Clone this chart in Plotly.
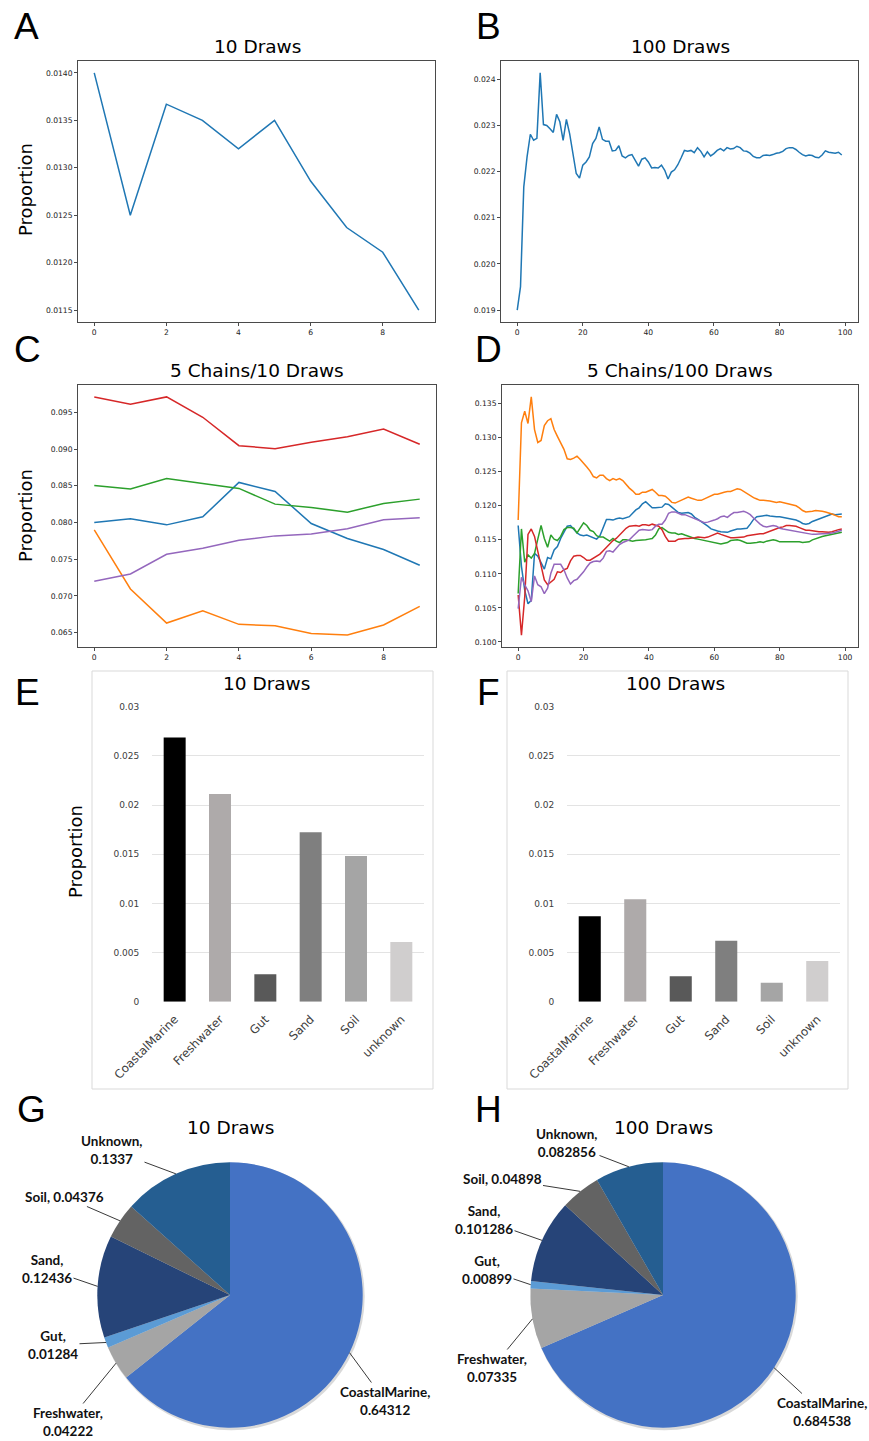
import math
import plotly.graph_objects as go

W, H = 869, 1441

# ---------------- data ----------------
x10 = list(range(10))
x100 = list(range(100))

a_draws10 = [0.0140, 0.0125, 0.01367, 0.0135, 0.01320, 0.0135, 0.01286, 0.01237, 0.01211, 0.0115]

b_draws100 = [
    0.01900, 0.01951, 0.02167, 0.02232, 0.02281, 0.02268, 0.02272, 0.02414, 0.02302, 0.02300,
    0.02293, 0.02285, 0.02324, 0.02308, 0.02268, 0.02313, 0.02282, 0.02239, 0.02196, 0.02186,
    0.02214, 0.02221, 0.02232, 0.02261, 0.02272, 0.02297, 0.02270, 0.02266, 0.02266, 0.02245,
    0.02246, 0.02256, 0.02234, 0.02230, 0.02235, 0.02237, 0.02225, 0.02212, 0.02227, 0.02230,
    0.02221, 0.02208, 0.02209, 0.02208, 0.02214, 0.02203, 0.02184, 0.02199, 0.02204, 0.02215,
    0.02230, 0.02246, 0.02244, 0.02246, 0.02241, 0.02252, 0.02244, 0.02232, 0.02243, 0.02234,
    0.02239, 0.02246, 0.02250, 0.02245, 0.02252, 0.02249, 0.02250, 0.02255, 0.02252, 0.02245,
    0.02244, 0.02240, 0.02233, 0.02230, 0.02230, 0.02235, 0.02236, 0.02235, 0.02237, 0.02240,
    0.02241, 0.02244, 0.02250, 0.02252, 0.02252, 0.02248, 0.02242, 0.02237, 0.02234, 0.02236,
    0.02235, 0.02231, 0.02230, 0.02236, 0.02245, 0.02242, 0.02241, 0.02240, 0.02242, 0.02236,
]

c_blue = [0.0800, 0.0805, 0.07968, 0.08077, 0.08545, 0.08423, 0.07986, 0.07782, 0.07632, 0.07418]
c_orange = [0.0790, 0.07095, 0.06632, 0.0680, 0.06614, 0.06595, 0.06491, 0.06468, 0.06605, 0.06859]
c_green = [0.08505, 0.08455, 0.0860, 0.08527, 0.08464, 0.0825, 0.08205, 0.08141, 0.08259, 0.08318]
c_red = [0.09709, 0.09609, 0.09709, 0.09432, 0.09045, 0.09005, 0.09091, 0.09168, 0.09273, 0.09064]
c_purple = [0.0720, 0.0730, 0.07568, 0.0765, 0.07759, 0.07818, 0.07845, 0.07914, 0.08036, 0.08064]

d_blue = [
    0.1171, 0.1111, 0.1076, 0.1056, 0.1061, 0.1130, 0.1126, 0.1116, 0.1107, 0.1124,
    0.1122, 0.1135, 0.1140, 0.1152, 0.1162, 0.1170, 0.1171, 0.1165, 0.1160, 0.1157,
    0.1156, 0.1157, 0.1155, 0.1153, 0.1151, 0.1156, 0.1167, 0.1180, 0.1180, 0.1179,
    0.1181, 0.1182, 0.1181, 0.1182, 0.1184, 0.1189, 0.1194, 0.1197, 0.1203, 0.1206,
    0.1202, 0.1197, 0.1197, 0.1198, 0.1198, 0.1203, 0.1202, 0.1198, 0.1194, 0.1190,
    0.1189, 0.1190, 0.1190, 0.1188, 0.1183, 0.1180, 0.1177, 0.1173, 0.1170, 0.1166,
    0.1164, 0.1163, 0.1162, 0.1161, 0.1161, 0.1163, 0.1165, 0.1166, 0.1166, 0.1166,
    0.1167, 0.1173, 0.1180, 0.1184, 0.1185, 0.1185, 0.1186, 0.1185, 0.1184, 0.1184,
    0.1184, 0.1183, 0.1182, 0.1182, 0.1181, 0.1179, 0.1177, 0.1174, 0.1173, 0.1174,
    0.1177, 0.1179, 0.1181, 0.1182, 0.1184, 0.1186, 0.1188, 0.1187, 0.1187, 0.1188,
]
d_orange = [
    0.1179, 0.1322, 0.1339, 0.1321, 0.1360, 0.1312, 0.1293, 0.1296, 0.1318, 0.1325,
    0.1328, 0.1312, 0.1302, 0.1292, 0.1283, 0.1269, 0.1268, 0.1270, 0.1273, 0.1268,
    0.1263, 0.1257, 0.1251, 0.1243, 0.1241, 0.1245, 0.1245, 0.1240, 0.1237, 0.1240,
    0.1238, 0.1240, 0.1237, 0.1231, 0.1226, 0.1222, 0.1217, 0.1217, 0.1220, 0.1220,
    0.1222, 0.1224, 0.1220, 0.1215, 0.1215, 0.1214, 0.1210, 0.1205, 0.1204, 0.1206,
    0.1209, 0.1210, 0.1213, 0.1211, 0.1209, 0.1208, 0.1208, 0.1210, 0.1213, 0.1215,
    0.1217, 0.1217, 0.1219, 0.1220, 0.1221, 0.1221, 0.1223, 0.1225, 0.1224, 0.1221,
    0.1217, 0.1215, 0.1212, 0.1210, 0.1208, 0.1208, 0.1208, 0.1207, 0.1206, 0.1205,
    0.1206, 0.1205, 0.1204, 0.1203, 0.1202, 0.1200, 0.1197, 0.1193, 0.1191, 0.1191,
    0.1192, 0.1193, 0.1193, 0.1192, 0.1191, 0.1190, 0.1188, 0.1186, 0.1184, 0.1184,
]
d_green = [
    0.1071, 0.1166, 0.1117, 0.1128, 0.1123, 0.1130, 0.1151, 0.1171, 0.1152, 0.1139,
    0.1157, 0.1151, 0.1149, 0.1155, 0.1165, 0.1168, 0.1168, 0.1167, 0.1160, 0.1168,
    0.1175, 0.1171, 0.1164, 0.1162, 0.1156, 0.1154, 0.1154, 0.1151, 0.1148, 0.1152,
    0.1148, 0.1146, 0.1150, 0.1150, 0.1149, 0.1148, 0.1149, 0.1149, 0.1150, 0.1150,
    0.1151, 0.1152, 0.1157, 0.1166, 0.1168, 0.1165, 0.1161, 0.1160, 0.1160, 0.1158,
    0.1159, 0.1157, 0.1155, 0.1154, 0.1152, 0.1151, 0.1150, 0.1150, 0.1149, 0.1148,
    0.1146, 0.1145, 0.1144, 0.1145, 0.1146, 0.1149, 0.1150, 0.1150, 0.1149, 0.1147,
    0.1145, 0.1145, 0.1145, 0.1146, 0.1147, 0.1146, 0.1148, 0.1149, 0.1150, 0.1149,
    0.1147, 0.1147, 0.1147, 0.1147, 0.1148, 0.1148, 0.1147, 0.1146, 0.1146, 0.1147,
    0.1150, 0.1152, 0.1153, 0.1155, 0.1156, 0.1157, 0.1158, 0.1159, 0.1160, 0.1161,
]
d_red = [
    0.1069, 0.1010, 0.1066, 0.1158, 0.1166, 0.1155, 0.1133, 0.1111, 0.1091, 0.1084,
    0.1088, 0.1092, 0.1103, 0.1102, 0.1106, 0.1108, 0.1119, 0.1126, 0.1127, 0.1127,
    0.1124, 0.1120, 0.1120, 0.1123, 0.1126, 0.1129, 0.1134, 0.1139, 0.1144, 0.1149,
    0.1152, 0.1157, 0.1162, 0.1167, 0.1170, 0.1171, 0.1171, 0.1170, 0.1172, 0.1172,
    0.1171, 0.1173, 0.1171, 0.1170, 0.1165, 0.1155, 0.1148, 0.1148, 0.1148, 0.1151,
    0.1152, 0.1152, 0.1152, 0.1152, 0.1153, 0.1154, 0.1153, 0.1153, 0.1154, 0.1156,
    0.1159, 0.1160, 0.1158, 0.1156, 0.1154, 0.1153, 0.1153, 0.1153, 0.1153, 0.1154,
    0.1156, 0.1157, 0.1158, 0.1159, 0.1159, 0.1159, 0.1161, 0.1162, 0.1164, 0.1166,
    0.1168, 0.1169, 0.1171, 0.1171, 0.1171, 0.1170, 0.1168, 0.1166, 0.1164, 0.1164,
    0.1163, 0.1163, 0.1162, 0.1162, 0.1161, 0.1161, 0.1162, 0.1164, 0.1165, 0.1166,
]
d_purple = [
    0.1049, 0.1095, 0.1084, 0.1075, 0.1059, 0.1097, 0.1084, 0.1081, 0.1071, 0.1079,
    0.1101, 0.1114, 0.1114, 0.1114, 0.1106, 0.1094, 0.1085, 0.1090, 0.1092, 0.1097,
    0.1103, 0.1110, 0.1116, 0.1118, 0.1119, 0.1118, 0.1123, 0.1133, 0.1134, 0.1132,
    0.1138, 0.1143, 0.1146, 0.1148, 0.1150, 0.1155, 0.1160, 0.1164, 0.1165, 0.1164,
    0.1164, 0.1165, 0.1170, 0.1173, 0.1173, 0.1179, 0.1189, 0.1191, 0.1191, 0.1189,
    0.1187, 0.1187, 0.1185, 0.1183, 0.1180, 0.1178, 0.1177, 0.1175, 0.1176, 0.1177,
    0.1179, 0.1181, 0.1184, 0.1185, 0.1183, 0.1187, 0.1190, 0.1190, 0.1191, 0.1192,
    0.1190, 0.1187, 0.1182, 0.1177, 0.1173, 0.1170, 0.1169, 0.1170, 0.1171, 0.1170,
    0.1167, 0.1166, 0.1165, 0.1165, 0.1164, 0.1162, 0.1161, 0.1160, 0.1159, 0.1158,
    0.1158, 0.1158, 0.1159, 0.1159, 0.1159, 0.1159, 0.1160, 0.1161, 0.1162, 0.1164,
]

bar_categories = ["CoastalMarine", "Freshwater", "Gut", "Sand", "Soil", "unknown"]
bar_10 = [0.02688, 0.02112, 0.00278, 0.01722, 0.01481, 0.00607]
bar_100 = [0.00869, 0.01042, 0.00260, 0.00619, 0.00193, 0.00413]
bar_colors = ["#000000", "#AEAAAA", "#595959", "#7F7F7F", "#A5A5A5", "#D0CECE"]

pie_labels = ["CoastalMarine", "Freshwater", "Gut", "Sand", "Soil", "Unknown"]
pie_10 = [0.64312, 0.04222, 0.01284, 0.12436, 0.04376, 0.1337]
pie_100 = [0.684538, 0.07335, 0.00899, 0.101286, 0.04898, 0.082856]
pie_10_text = ["0.64312", "0.04222", "0.01284", "0.12436", "0.04376", "0.1337"]
pie_100_text = ["0.684538", "0.07335", "0.00899", "0.101286", "0.04898", "0.082856"]
pie_colors = ["#4472C4", "#A5A5A5", "#5B9BD5", "#264478", "#636363", "#255E91"]

C0, C1, C2, C3, C4 = "#1f77b4", "#ff7f0e", "#2ca02c", "#d62728", "#9467bd"

# ---------------- helpers ----------------
def PX(x):
    return x / W


def PY(y):
    return 1 - y / H


def mpl_range(series_list):
    lo = min(min(s) for s in series_list)
    hi = max(max(s) for s in series_list)
    m = (hi - lo) * 0.05
    return [lo - m, hi + m]


MPL_FONT = "DejaVu Sans"
SPINE = "#4a4a4a"


def mpl_axes(domx, domy, anchor, xr, xt, yr, yt, yfmt):
    xa = dict(domain=domx, anchor=anchor[1], range=xr, tickvals=xt, showline=True, mirror=True,
              linecolor=SPINE, linewidth=1, ticks="outside", ticklen=3, tickcolor=SPINE,
              tickfont=dict(family=MPL_FONT, size=7.6, color="#222"), showgrid=False, zeroline=False,
              automargin=False)
    ya = dict(domain=domy, anchor=anchor[0], range=yr, tickvals=yt, tickformat=yfmt, showline=True,
              mirror=True, linecolor=SPINE, linewidth=1, ticks="outside", ticklen=3, tickcolor=SPINE,
              tickfont=dict(family=MPL_FONT, size=7.6, color="#222"), showgrid=False, zeroline=False,
              automargin=False)
    return xa, ya


fig = go.Figure()

# ---- A
fig.add_trace(go.Scatter(x=x10, y=a_draws10, mode="lines", line=dict(color=C0, width=1.5),
                         xaxis="x", yaxis="y", showlegend=False))
# ---- B
fig.add_trace(go.Scatter(x=x100, y=b_draws100, mode="lines", line=dict(color=C0, width=1.5),
                         xaxis="x2", yaxis="y2", showlegend=False))
# ---- C
for s, c in [(c_blue, C0), (c_orange, C1), (c_green, C2), (c_red, C3), (c_purple, C4)]:
    fig.add_trace(go.Scatter(x=x10, y=s, mode="lines", line=dict(color=c, width=1.5),
                             xaxis="x3", yaxis="y3", showlegend=False))
# ---- D
for s, c in [(d_blue, C0), (d_orange, C1), (d_green, C2), (d_red, C3), (d_purple, C4)]:
    fig.add_trace(go.Scatter(x=x100, y=s, mode="lines", line=dict(color=c, width=1.5),
                             xaxis="x4", yaxis="y4", showlegend=False))
# ---- E, F bars
fig.add_trace(go.Bar(x=bar_categories, y=bar_10, marker=dict(color=bar_colors, line=dict(width=0)),
                     xaxis="x5", yaxis="y5", showlegend=False))
fig.add_trace(go.Bar(x=bar_categories, y=bar_100, marker=dict(color=bar_colors, line=dict(width=0)),
                     xaxis="x6", yaxis="y6", showlegend=False))

# ---- G, H pies
R = 132.7
pie_centers = [(230, 1295), (663, 1295)]
for vals, (cx, cy) in zip([pie_10, pie_100], pie_centers):
    fig.add_trace(go.Pie(values=vals, labels=pie_labels, sort=False, direction="clockwise", rotation=0,
                         marker=dict(colors=pie_colors, line=dict(width=0)), textinfo="none",
                         domain=dict(x=[PX(cx - R), PX(cx + R)], y=[PY(cy + R), PY(cy - R)]),
                         automargin=False, showlegend=False))

rA = mpl_range([a_draws10])
rB = mpl_range([b_draws100])
rC = mpl_range([c_blue, c_orange, c_green, c_red, c_purple])
rD = mpl_range([d_blue, d_orange, d_green, d_red, d_purple])

xa1, ya1 = mpl_axes([PX(78), PX(435)], [PY(322), PY(61)], ("x", "y"), [-0.45, 9.45], [0, 2, 4, 6, 8],
                    rA, [0.0115, 0.0120, 0.0125, 0.0130, 0.0135, 0.0140], ".4f")
xa2, ya2 = mpl_axes([PX(501), PX(858)], [PY(322), PY(61)], ("x2", "y2"), [-4.95, 103.95],
                    [0, 20, 40, 60, 80, 100], rB, [0.019, 0.020, 0.021, 0.022, 0.023, 0.024], ".3f")
xa3, ya3 = mpl_axes([PX(78), PX(436)], [PY(647), PY(385)], ("x3", "y3"), [-0.45, 9.45], [0, 2, 4, 6, 8],
                    rC, [0.065, 0.070, 0.075, 0.080, 0.085, 0.090, 0.095], ".3f")
xa4, ya4 = mpl_axes([PX(502), PX(858)], [PY(647), PY(385)], ("x4", "y4"), [-4.95, 103.95],
                    [0, 20, 40, 60, 80, 100], rD,
                    [0.100, 0.105, 0.110, 0.115, 0.120, 0.125, 0.130, 0.135], ".3f")

XL_FONT = "DejaVu Sans"


def bar_axes(domx, anchor):
    xa = dict(domain=domx, anchor=anchor[1], type="category", tickangle=-45, showline=False,
              showgrid=False, zeroline=False, ticks="outside", ticklen=5, tickcolor="rgba(0,0,0,0)",
              tickfont=dict(family=XL_FONT, size=11.8, color="#404040"), automargin=False)
    ya = dict(domain=[PY(1001.7), PY(706.7)], anchor=anchor[0], range=[0, 0.03], dtick=0.005,
              showline=False, showgrid=True, gridcolor="#E3E3E3", gridwidth=1, zeroline=False,
              ticks="outside", ticklen=10, tickcolor="rgba(0,0,0,0)",
              tickfont=dict(family=XL_FONT, size=9, color="#404040"), automargin=False)
    return xa, ya


xa5, ya5 = bar_axes([PX(152), PX(424)], ("x5", "y5"))
xa6, ya6 = bar_axes([PX(567), PX(840)], ("x6", "y6"))

annotations = []


def text_ann(x, y, text, size, family=MPL_FONT, angle=0, color="#000"):
    annotations.append(dict(x=PX(x), y=PY(y), xref="paper", yref="paper", text=text, showarrow=False,
                            xanchor="center", yanchor="middle", textangle=angle,
                            font=dict(family=family, size=size, color=color)))


# panel letters
for letter, (lx, ly) in {"A": (26, 27), "B": (488, 27), "C": (27, 350), "D": (488, 350),
                         "E": (27, 692), "F": (488, 692), "G": (31, 1109), "H": (488, 1109)}.items():
    text_ann(lx, ly, letter, 37, family="Liberation Sans")

# titles
text_ann(257, 47, "10 Draws", 18.5)
text_ann(680, 47, "100 Draws", 18.5)
text_ann(257, 371, "5 Chains/10 Draws", 18.5)
text_ann(680, 371, "5 Chains/100 Draws", 18.5)
text_ann(266, 684, "10 Draws", 18.5)
text_ann(675, 684, "100 Draws", 18.5)
text_ann(231, 1127, "10 Draws", 18.5)
text_ann(663, 1127, "100 Draws", 18.5)

# y labels
text_ann(25, 190, "Proportion", 18, angle=-90)
text_ann(25, 516, "Proportion", 18, angle=-90)
text_ann(75, 852, "Proportion", 18, angle=-90)

# pie labels with leader lines (tips from slice mid-angles)
label_pos_10 = [(385, 1401, True), (68, 1422, True), (53, 1345, True), (47, 1269, True),
                (65, 1197, False), (112, 1150, True)]
label_pos_100 = [(822, 1412, True), (492, 1368, True), (487, 1270, True), (484, 1220, True),
                 (502, 1179, False), (567, 1143, True)]
for vals, texts, (cx, cy), positions in [(pie_10, pie_10_text, pie_centers[0], label_pos_10),
                                         (pie_100, pie_100_text, pie_centers[1], label_pos_100)]:
    total = sum(vals)
    cum = 0.0
    for name, v, t, (tx, ty, two) in zip(pie_labels, vals, texts, positions):
        mid = (cum + v / 2) / total
        cum += v
        th = 2 * math.pi * mid
        tipx = cx + R * math.sin(th)
        tipy = cy - R * math.cos(th)
        txt = f"<b>{name},<br>{t}</b>" if two else f"<b>{name}, {t}</b>"
        annotations.append(dict(x=PX(tipx), y=PY(tipy), xref="paper", yref="paper", text=txt,
                                showarrow=True, arrowhead=0, arrowwidth=0.9, arrowcolor="#222",
                                axref="pixel", ayref="pixel", ax=tx - tipx, ay=ty - tipy,
                                standoff=0, startstandoff=0,
                                font=dict(family="Lato", size=13.5, color="#111"), align="center"))

shapes = []
# outer frames of the bar charts
for x0, x1 in [(92, 433), (507, 848)]:
    shapes.append(dict(type="rect", xref="paper", yref="paper", x0=PX(x0), x1=PX(x1), y0=PY(1089),
                       y1=PY(671), line=dict(color="#D9D9D9", width=1), fillcolor="rgba(0,0,0,0)",
                       layer="below"))
# soft pie shadows
for cx, cy in pie_centers:
    shapes.append(dict(type="circle", xref="paper", yref="paper", x0=PX(cx - R + 0.5), x1=PX(cx + R + 2),
                       y0=PY(cy + R + 2.5), y1=PY(cy - R + 0.5), line=dict(width=0),
                       fillcolor="rgba(170,170,170,0.45)", layer="below"))

fig.update_layout(
    template="none",
    width=W, height=H, margin=dict(l=0, r=0, t=0, b=0, pad=0), autosize=False,
    paper_bgcolor="white", plot_bgcolor="white",
    xaxis=xa1, yaxis=ya1, xaxis2=xa2, yaxis2=ya2, xaxis3=xa3, yaxis3=ya3, xaxis4=xa4, yaxis4=ya4,
    xaxis5=xa5, yaxis5=ya5, xaxis6=xa6, yaxis6=ya6,
    bargap=0.515, annotations=annotations, shapes=shapes,
)

fig.write_html("out.html")
